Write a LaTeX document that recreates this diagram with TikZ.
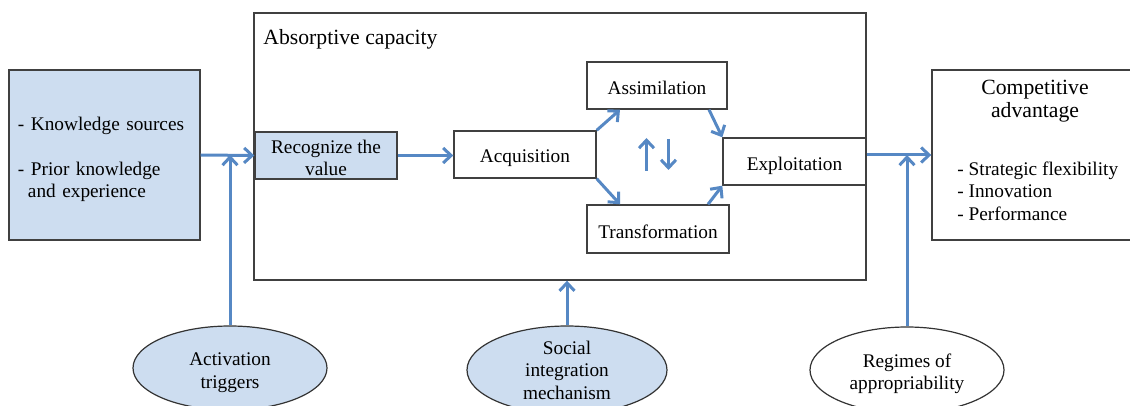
\documentclass[tikz,border=0pt]{standalone}
\usepackage{fontspec}
\setmainfont{Liberation Serif}
\usetikzlibrary{shapes.geometric,arrows.meta,calc}
\definecolor{ablue}{RGB}{86,136,196}
\definecolor{lblue}{RGB}{205,221,240}
\newcommand{\bodyfont}{\fontsize{9.65}{11.25}\selectfont}
\newcommand{\headfont}{\fontsize{10.85}{11.5}\selectfont}
\newcommand{\dnrule}[1]{\rule{0pt}{#1}}
\tikzset{
  box/.style={draw=black!75, line width=0.7pt, fill=white, inner sep=0pt, align=center, font=\bodyfont},
  bluebox/.style={box, fill=lblue},
  oval/.style={ellipse, draw=black!80, line width=0.6pt, inner sep=0pt, align=center, font=\bodyfont},
  low/.style={execute at begin node={\rule{0pt}{#1}}},
  arr/.style={draw=ablue, line width=1.5pt, -{Straight Barb[length=4pt,width=7.5pt]}}
}
\begin{document}
\begin{tikzpicture}[x=0.5pt,y=-0.5pt]
  \useasboundingbox (0,0) rectangle (1130,406);

  \node[box, minimum width=306pt, minimum height=133.5pt] (acap) at (560,146.5) {};
  \node[anchor=west, inner sep=0pt, font=\headfont] (acapT) at (263,39.5) {Absorptive capacity};

  \node[bluebox, low=11.1pt, minimum width=95.5pt, minimum height=85pt, align=left, text width=86.5pt, inner xsep=4.5pt] (src) at (104.5,155)
    {- Knowledge sources\\[11.25pt]- Prior knowledge\\\hspace*{5pt}and experience};
  \node[bluebox, minimum width=71pt, minimum height=23.5pt] (recog) at (326,155.5) {\dnrule{9.1pt}Recognize the\\value};
  \node[box, low=10.1pt, minimum width=71pt, minimum height=23.5pt] (acq) at (525,154.5) {Acquisition};
  \node[box, low=8.6pt, minimum width=70pt, minimum height=23.5pt] (assim) at (657,85.5) {Assimilation};
  \node[box, low=9.6pt, minimum width=71pt, minimum height=24pt] (trans) at (658,229) {Transformation};
  \node[box, low=10.6pt, minimum width=71.5pt, minimum height=23.5pt] (explo) at (794.5,161.5) {Exploitation};

  \node[box, minimum width=103pt, minimum height=85pt] (comp) at (1035,155) {}; % runs past the edge
  \node[inner sep=0pt, align=center, font=\headfont] (compT) at (1035,101.5) {Competitive\\advantage};
  \node[anchor=west, inner sep=0pt, align=left, font=\bodyfont] (compL) at (957,191)
    {- Strategic flexibility\\- Innovation\\- Performance};

  \node[oval, fill=lblue, minimum width=97pt, minimum height=42pt] (act) at (230,368) {\dnrule{11.1pt}Activation\\triggers};
  \node[oval, fill=lblue, minimum width=100pt, minimum height=44pt] (social) at (567,370) {Social\\integration\\mechanism};
  \node[oval, fill=white, minimum width=97pt, minimum height=43pt] (regime) at (907,370) {\dnrule{10.6pt}Regimes of\\appropriability};

  \draw[arr] (src.east) -- (recog.west);
  \draw[arr] (act.north) -- (act.north |- src.east);
  \draw[arr] (recog.east) -- (recog.east -| acq.west);
  \draw[arr] (acq.north east) -- ($(assim.south)+(-37,0)$);
  \draw[arr] (acq.south east) -- ($(trans.north)+(-38,0)$);
  \draw[arr] ($(assim.south)+(52,0)$) -- (explo.north west);
  \draw[arr] ($(trans.north)+(50,0)$) -- (explo.south west);

  % cycle between assimilation and transformation
  \coordinate (cyc) at ($(assim.south)!0.5!(trans.north)$);
  \coordinate (upA) at ($(cyc)+(-11,14)$);
  \coordinate (upB) at ($(cyc)+(-11,-19)$);
  \coordinate (dnA) at ($(cyc)+(11,-18)$);
  \coordinate (dnB) at ($(cyc)+(11,13)$);
  \draw[arr] (upA) -- (upB);
  \draw[arr] (dnA) -- (dnB);

  \draw[arr] (comp.west -| explo.east) -- (comp.west);
  \draw[arr] (regime.north) -- (regime.north |- comp.west);
  \draw[arr] (social.north) -- (social.north |- acap.south);
\end{tikzpicture}
\end{document}
